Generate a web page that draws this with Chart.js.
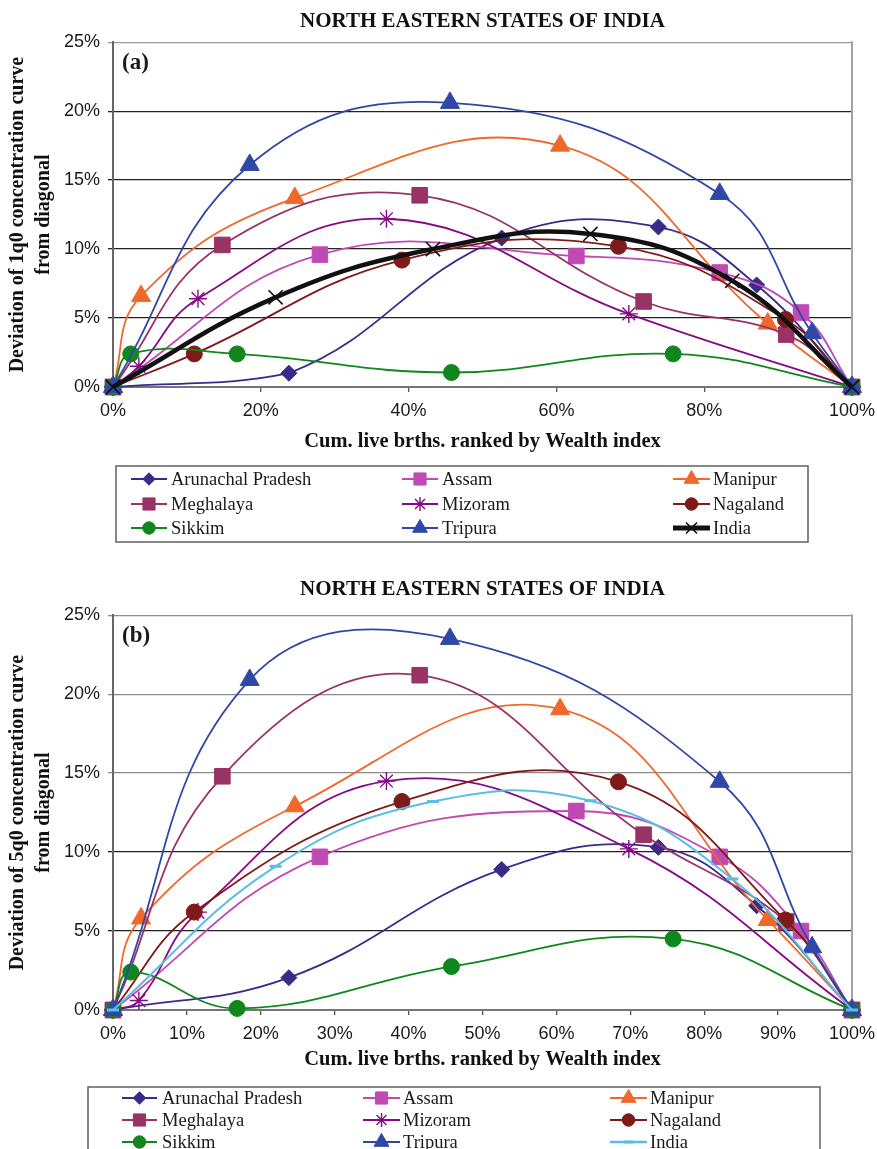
<!DOCTYPE html>
<html>
<head>
<meta charset="utf-8">
<script src="https://cdn.jsdelivr.net/npm/chart.js@4/dist/chart.umd.min.js"></script>
<style>
  html, body { margin: 0; padding: 0; background: #ffffff; }
  body { width: 877px; height: 1149px; position: relative; overflow: hidden; }
  canvas { position: absolute; left: 0; display: block; }
  #chartA { top: 0; }
  #chartB { top: 568px; }
</style>
</head>
<body>
<canvas id="chartA" width="877" height="560"></canvas>
<canvas id="chartB" width="877" height="581"></canvas>
<script>
// ---- Data -------------------------------------------------------------
const states = ['Arunachal Pradesh', 'Assam', 'Manipur', 'Meghalaya', 'Mizoram',
                'Nagaland', 'Sikkim', 'Tripura', 'India'];

// Cumulative share of live births ranked by wealth index (%), quintile cut points
const cumArunachal = [0, 23.8, 52.6, 73.8, 87.1, 100];
const cumAssam     = [0, 28.0, 62.7, 82.1, 93.1, 100];
const cumManipur   = [0, 3.8, 24.6, 60.5, 88.6, 100];
const cumMeghalaya = [0, 14.8, 41.5, 71.8, 91.1, 100];
const cumMizoram   = [0, 3.5, 11.5, 37.0, 69.8, 100];
const cumNagaland  = [0, 11.0, 39.1, 68.4, 91.0, 100];
const cumSikkim    = [0, 2.4, 16.8, 45.8, 75.8, 100];
const cumTripura   = [0, 18.5, 45.6, 82.1, 94.6, 100];
const cumIndia     = [0, 22.0, 43.3, 64.6, 83.8, 100];

// (a) Deviation of the 1q0 concentration curve from the diagonal (%)
const q1Arunachal = [0, 1.0, 10.8, 11.6, 7.4, 0];
const q1Assam     = [0, 9.6, 9.5, 8.3, 5.4, 0];
const q1Manipur   = [0, 6.6, 13.7, 17.5, 4.6, 0];
const q1Meghalaya = [0, 10.3, 13.9, 6.2, 3.8, 0];
const q1Mizoram   = [0, 1.5, 6.4, 12.2, 5.3, 0];
const q1Nagaland  = [0, 2.4, 9.2, 10.2, 4.9, 0];
const q1Sikkim    = [0, 2.4, 2.4, 1.05, 2.4, 0];
const q1Tripura   = [0, 16.1, 20.6, 14.0, 3.9, 0];
const q1India     = [0, 6.5, 10.0, 11.1, 7.7, 0];

// (b) Deviation of the 5q0 concentration curve from the diagonal (%)
const q5Arunachal = [0, 2.05, 8.9, 10.3, 6.6, 0];
const q5Assam     = [0, 9.7, 12.6, 9.7, 5.0, 0];
const q5Manipur   = [0, 5.8, 12.9, 19.05, 5.7, 0];
const q5Meghalaya = [0, 14.8, 21.2, 11.1, 5.6, 0];
const q5Mizoram   = [0, 0.6, 6.2, 14.5, 10.2, 0];
const q5Nagaland  = [0, 6.2, 13.2, 14.45, 5.7, 0];
const q5Sikkim    = [0, 2.4, 0.1, 2.75, 4.5, 0];
const q5Tripura   = [0, 20.9, 23.5, 14.45, 3.97, 0];
const q5India     = [0, 9.1, 13.2, 13.25, 8.3, 0];

// Tick values (%)
const xTicksA = [0, 20, 40, 60, 80, 100];
const xTicksB = [0, 10, 20, 30, 40, 50, 60, 70, 80, 90, 100];
const yTicks  = [0, 5, 10, 15, 20, 25];

const cumulative = [cumArunachal, cumAssam, cumManipur, cumMeghalaya, cumMizoram,
                    cumNagaland, cumSikkim, cumTripura, cumIndia];
const panelA = [q1Arunachal, q1Assam, q1Manipur, q1Meghalaya, q1Mizoram,
                q1Nagaland, q1Sikkim, q1Tripura, q1India];
const panelB = [q5Arunachal, q5Assam, q5Manipur, q5Meghalaya, q5Mizoram,
                q5Nagaland, q5Sikkim, q5Tripura, q5India];

// ---- Styles -----------------------------------------------------------
const stateStyles = [
  { color: '#3a2a8a', point: 'rectRot',  r: 8,  pw: 1 },
  { color: '#c04ab4', point: 'rect',     r: 11, pw: 1 },
  { color: '#f0692a', point: 'triangle', r: 11, pw: 1 },
  { color: '#993366', point: 'rect',     r: 11, pw: 1 },
  { color: '#850a85', point: 'star',     r: 9,  pw: 1.4 },
  { color: '#7f1a1a', point: 'circle',   r: 8,  pw: 1 },
  { color: '#10861c', point: 'circle',   r: 8,  pw: 1 },
  { color: '#2f48a6', point: 'triangle', r: 11, pw: 1 }
];
const indiaStyleA = { color: '#111111', point: 'crossRot', r: 10, pw: 1.6, lw: 4.5, legendLw: 5 };
const indiaStyleB = { color: '#5bbde6', point: 'line',     r: 6,  pw: 3,   lw: 2,   legendLw: 2.5 };

const SERIF = "'Liberation Serif', 'Times New Roman', serif";
const SANS  = "'Liberation Sans', Arial, sans-serif";

function buildDatasets(values, indiaStyle) {
  return states.map((name, i) => {
    const st = i < stateStyles.length ? stateStyles[i] : indiaStyle;
    const xs = cumulative[i];
    return {
      label: name,
      data: xs.map((x, k) => ({ x: x, y: values[i][k] })),
      borderColor: st.color,
      backgroundColor: st.color,
      borderWidth: st.lw || 1.8,
      legendLineWidth: st.legendLw || 2,
      pointStyle: st.point,
      pointRadius: st.r,
      pointHoverRadius: st.r,
      pointBackgroundColor: st.color,
      pointBorderColor: st.color,
      pointBorderWidth: st.pw,
      tension: 0.42,
      clip: false,
      order: states.length - i
    };
  });
}

// Boxed three-column legend, frame line on the right and the panel tag
const panelExtras = {
  id: 'panelExtras',
  beforeDatasetsDraw(chart, args, opts) {
    const { ctx, chartArea } = chart;
    ctx.save();
    ctx.strokeStyle = '#a3a3a3';
    ctx.lineWidth = 2;
    ctx.beginPath();
    ctx.moveTo(chartArea.right, chartArea.top - 1);
    ctx.lineTo(chartArea.right, chartArea.bottom);
    ctx.stroke();
    ctx.fillStyle = '#1a1a1a';
    ctx.font = 'bold 23px ' + SERIF;
    ctx.textAlign = 'left';
    ctx.textBaseline = 'middle';
    ctx.fillText(opts.tag, chartArea.left + opts.tagDx, chartArea.top + opts.tagDy);
    ctx.restore();
  },
  afterDraw(chart, args, opts) {
    const ctx = chart.ctx;
    const lg = opts.legend;
    ctx.save();
    ctx.strokeStyle = '#6a6a6a';
    ctx.lineWidth = 1.6;
    ctx.strokeRect(lg.left, lg.top, lg.right - lg.left, lg.bottom - lg.top);
    chart.data.datasets.forEach((ds, i) => {
      const y = lg.rows[Math.floor(i / 3)];
      const c = lg.cols[i % 3];
      ctx.strokeStyle = ds.borderColor;
      ctx.lineWidth = ds.legendLineWidth;
      ctx.beginPath();
      ctx.moveTo(c[0], y);
      ctx.lineTo(c[1], y);
      ctx.stroke();
      ctx.fillStyle = ds.pointBackgroundColor;
      ctx.strokeStyle = ds.pointBorderColor;
      ctx.lineWidth = ds.pointBorderWidth;
      Chart.helpers.drawPoint(ctx, {
        pointStyle: ds.pointStyle,
        radius: ds.pointRadius * 0.78,
        rotation: 0,
        borderWidth: ds.pointBorderWidth
      }, (c[0] + c[1]) / 2, y);
      ctx.fillStyle = '#1a1a1a';
      ctx.font = '18.5px ' + SERIF;
      ctx.textAlign = 'left';
      ctx.textBaseline = 'middle';
      ctx.fillText(ds.label, c[2], y + 1);
    });
    ctx.restore();
  }
};

function makeChart(canvasId, cfg) {
  return new Chart(document.getElementById(canvasId), {
    type: 'line',
    data: { datasets: buildDatasets(cfg.values, cfg.india) },
    plugins: [panelExtras],
    options: {
      responsive: false,
      animation: false,
      events: [],
      layout: { padding: { left: 0, right: 25, top: 0, bottom: cfg.bottomPad } },
      plugins: {
        legend: { display: false },
        tooltip: { enabled: false },
        title: {
          display: true,
          text: 'NORTH EASTERN STATES OF INDIA',
          fullSize: false,
          color: '#111111',
          font: { family: SERIF, size: 21, weight: 'bold', lineHeight: 1.2 },
          padding: cfg.titlePad
        },
        panelExtras: { tag: cfg.tag, tagDx: 9, tagDy: 21, legend: cfg.legend }
      },
      scales: {
        x: {
          type: 'linear',
          min: 0,
          max: 100,
          afterBuildTicks: s => { s.ticks = cfg.xTicks.map(v => ({ value: v })); },
          afterFit: s => { s.height = cfg.xHeight; s.paddingLeft = 0; s.paddingRight = 0; },
          ticks: {
            callback: v => v + '%',
            color: '#1a1a1a',
            font: { family: SANS, size: 18 },
            padding: 8,
            maxRotation: 0,
            autoSkip: false
          },
          grid: { drawOnChartArea: false, drawTicks: true, tickLength: 5, color: '#555555', lineWidth: 1.3 },
          border: { color: '#767676', width: 2 },
          title: {
            display: true,
            text: 'Cum. live brths. ranked by Wealth index',
            color: '#111111',
            font: { family: SERIF, size: 20.5, weight: 'bold', lineHeight: 1.2 },
            padding: { top: 0, bottom: 3 }
          }
        },
        y: {
          min: 0,
          max: 25,
          afterBuildTicks: s => { s.ticks = yTicks.map(v => ({ value: v })); },
          afterFit: s => { s.width = 113; },
          ticks: {
            callback: v => v + '%',
            color: '#1a1a1a',
            font: { family: SANS, size: 18 },
            padding: 8
          },
          grid: {
            color: c => cfg.gridColor(c.tick ? c.tick.value : 0),
            lineWidth: 1.3,
            tickLength: 5
          },
          border: { color: '#666666', width: 2 },
          title: {
            display: true,
            text: cfg.yTitle,
            color: '#111111',
            font: { family: SERIF, size: 20, weight: 'bold', lineHeight: 1.3 },
            padding: { top: 5, bottom: 0 }
          }
        }
      }
    }
  });
}

makeChart('chartA', {
  values: panelA,
  india: indiaStyleA,
  tag: '(a)',
  xTicks: xTicksA,
  xHeight: 70,
  bottomPad: 103,
  titlePad: { top: 9, bottom: 8 },
  yTitle: ['Deviation of 1q0 concentration curve', 'from diagonal'],
  gridColor: v => (v >= 25 ? '#9c9c9c' : '#222222'),
  legend: {
    left: 116, top: 466, right: 808, bottom: 542,
    rows: [479, 504, 528],
    cols: [[131, 167, 171], [402, 438, 442], [673, 710, 713]]
  }
});

makeChart('chartB', {
  values: panelB,
  india: indiaStyleB,
  tag: '(b)',
  xTicks: xTicksB,
  xHeight: 65,
  bottomPad: 74,
  titlePad: { top: 9, bottom: 13 },
  yTitle: ['Deviation of 5q0 concentration curve', 'from diagonal'],
  gridColor: v => (v >= 15 ? '#8c8c8c' : '#222222'),
  legend: {
    left: 88, top: 519, right: 820, bottom: 600,
    rows: [530, 552, 574],
    cols: [[122, 157, 162], [363, 400, 403], [610, 647, 650]]
  }
});
</script>
</body>
</html>
